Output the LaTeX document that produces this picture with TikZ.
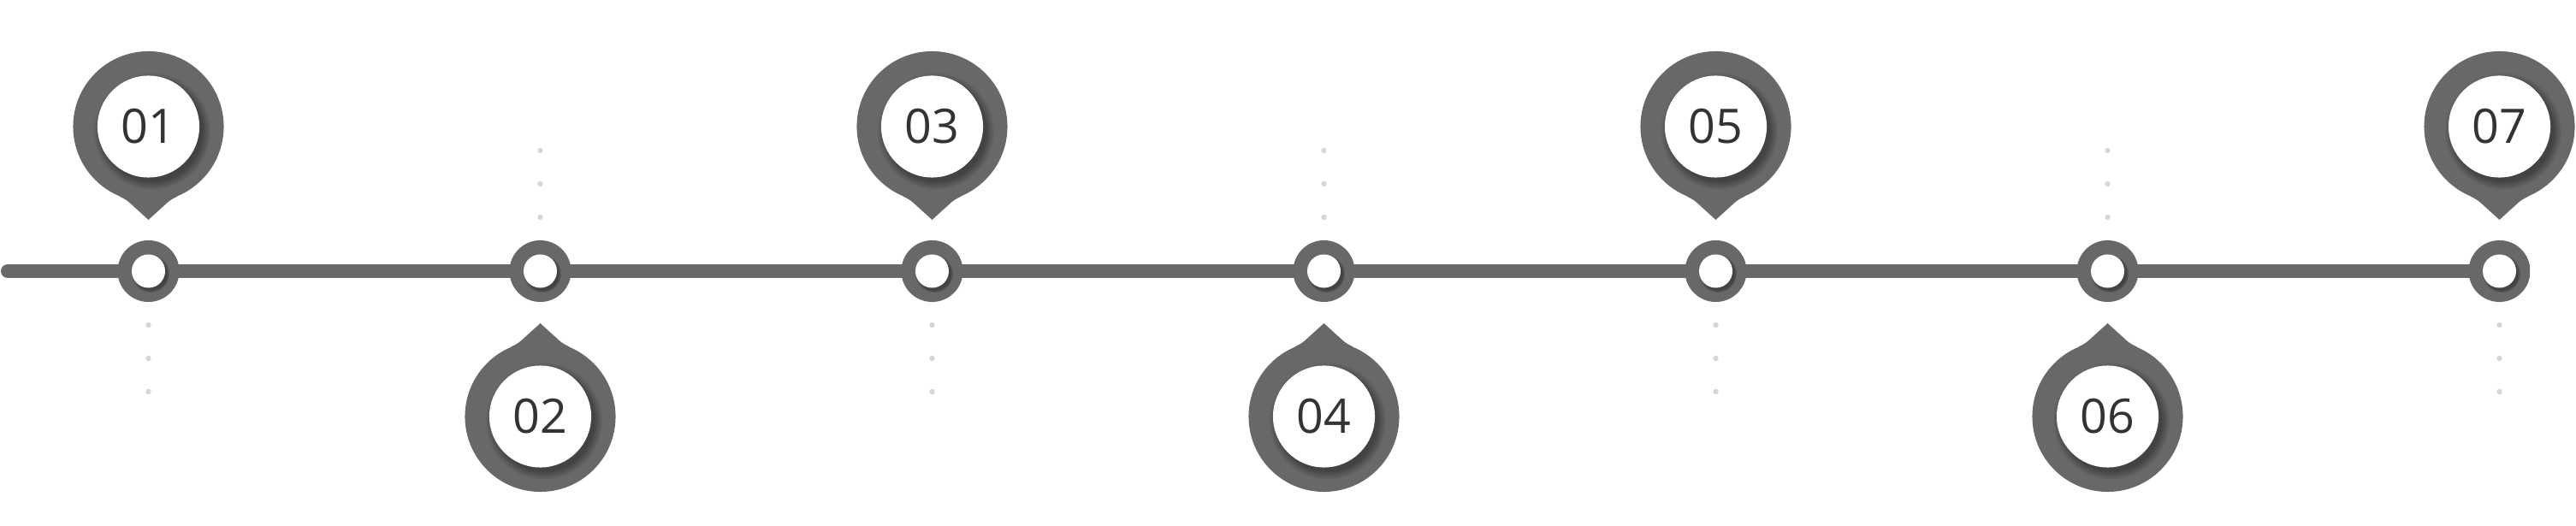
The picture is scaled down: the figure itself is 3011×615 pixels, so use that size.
\documentclass[tikz,border=0pt]{standalone}
\usepackage{fontspec}
\setmainfont{Open Sans}
\usetikzlibrary{shadows,backgrounds}

\definecolor{tlgray}{RGB}{104,104,104}
\definecolor{tldot}{RGB}{214,214,214}
\definecolor{tltext}{RGB}{51,51,51}

\tikzset{
    ring/.style={circle, fill=tlgray, minimum size=0.72cm, inner sep=0pt},
    hole/.style={circle, fill=white, minimum size=0.39cm, inner sep=0pt,
        circular drop shadow={shadow xshift=0.02cm, shadow yshift=-0.025cm, shadow scale=1.15, opacity=0.35, fill=black}},
    head/.style={circle, fill=tlgray, minimum size=1.76cm, inner sep=0pt},
    face/.style={circle, fill=white, minimum size=1.19cm, inner sep=0pt, text=tltext,
        font=\fontsize{15.8}{18}\selectfont,
        circular drop shadow={shadow xshift=0.035cm, shadow yshift=-0.045cm, shadow scale=1.15, opacity=0.35, fill=black}},
    pintip/.pic={
        \fill[tlgray] (-34,-81.5) .. controls (-29,-84) and (-26,-85.5) .. (-22,-89) -- (0,-109)
            -- (22,-89) .. controls (26,-85.5) and (29,-84) .. (34,-81.5) -- (0,-60) -- cycle;
    }
}

\begin{document}
\begin{tikzpicture}[x=0.01cm, y=0.01cm]
    \useasboundingbox (0,0) rectangle (3011,615);

    % rings on the line
    \begin{scope}
        \clip (0,0) rectangle (2957,615);
        \node[ring] (r1) at (173.5,298) {};
        \node[ring] (r2) at (631.5,298) {};
        \node[ring] (r3) at (1089.5,298) {};
        \node[ring] (r4) at (1547.5,298) {};
        \node[ring] (r5) at (2005.5,298) {};
        \node[ring] (r6) at (2463.5,298) {};
        \node[ring] (r7) at (2921.5,298) {};
        \foreach \k in {1,...,7}
            \node[hole] (o\k) at (r\k) {};
    \end{scope}

    \coordinate (start) at (9,298);
    \begin{scope}[on background layer]
        \draw[tlgray, line width=0.16cm, line cap=round] (start) -- (r7.center);
    \end{scope}

    % dots
    \foreach \k in {1,3,5,7}
        \foreach \d in {63,102,141}
            \fill[tldot] ([yshift=-\d*0.01cm]r\k.center) circle (3.2);
    \foreach \k in {2,4,6}
        \foreach \d in {63,102,141}
            \fill[tldot] ([yshift=\d*0.01cm]r\k.center) circle (3.2);

    % pins above
    \node[head] (h1) at (173.5,467) {};
    \node[head] (h3) at (1089.5,467) {};
    \node[head] (h5) at (2005.5,467) {};
    \node[head] (h7) at (2921.5,467) {};
    % pins below
    \node[head] (h2) at (631.5,128) {};
    \node[head] (h4) at (1547.5,128) {};
    \node[head] (h6) at (2463.5,128) {};

    \pic at (h1.center) {pintip};
    \pic at (h3.center) {pintip};
    \pic at (h5.center) {pintip};
    \pic at (h7.center) {pintip};
    \pic[yscale=-1] at (h2.center) {pintip};
    \pic[yscale=-1] at (h4.center) {pintip};
    \pic[yscale=-1] at (h6.center) {pintip};

    \node[face] (f1) at (h1) {01};
    \node[face] (f2) at (h2) {02};
    \node[face] (f3) at (h3) {03};
    \node[face] (f4) at (h4) {04};
    \node[face] (f5) at (h5) {05};
    \node[face] (f6) at (h6) {06};
    \node[face] (f7) at (h7) {07};
\end{tikzpicture}
\end{document}
